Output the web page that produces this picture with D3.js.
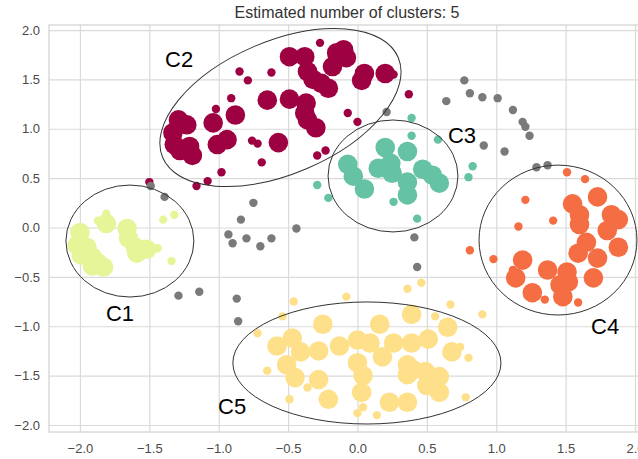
<!doctype html>
<html>
<head>
<meta charset="utf-8">
<script src="https://cdn.jsdelivr.net/npm/d3@7/dist/d3.min.js"></script>
<style>
  body { margin: 0; background: #fff; }
  text { font-family: "Liberation Sans", Arial, sans-serif; }
  .axis text { font-size: 13px; fill: #4a4a4a; }
  .axis line { stroke: #dadada; stroke-width: 1.2; }
  .axis .domain { display: none; }
</style>
</head>
<body>
<svg id="chart" width="638" height="459"></svg>
<script>
// core samples (large) and border samples (small) per cluster, noise in gray
var c1Core = [[-2.00,-0.05],[-2.02,-0.18],[-1.95,-0.20],[-1.99,-0.28],[-1.91,-0.30],[-1.87,-0.36],[-1.83,-0.40],[-1.91,-0.39],[-1.81,0.04],[-1.66,-0.01],[-1.65,-0.11],[-1.60,-0.20],[-1.59,-0.26],[-1.52,-0.22]];
var c1Edge = [[-1.87,0.07],[-1.81,0.14],[-1.44,-0.21],[-1.40,0.08],[-1.32,0.13],[-1.34,-0.34]];

var c2Core = [[-1.29,1.09],[-1.23,1.04],[-1.33,0.96],[-1.32,0.84],[-1.21,0.82],[-1.19,0.73],[-1.28,0.78],[-1.04,1.06],[-0.88,1.14],[-1.01,0.84],[-0.94,0.89],[-0.65,1.29],[-0.57,0.86],[-0.49,1.73],[-0.38,1.73],[-0.36,1.58],[-0.32,1.50],[-0.26,1.46],[-0.21,1.41],[-0.49,1.30],[-0.37,1.26],[-0.38,1.16],[-0.36,1.09],[-0.30,1.01],[-0.15,1.77],[-0.10,1.80],[-0.08,1.72],[-0.18,1.63],[0.05,1.56],[0.03,1.49],[0.20,1.56]];
var c2Edge = [[-0.85,1.58],[-0.79,1.49],[-0.62,1.57],[-0.91,1.31],[-1.02,1.20],[-0.76,0.88],[-0.72,0.85],[-0.69,0.66],[-0.98,0.56],[-1.08,0.47],[-1.16,0.42],[-1.50,0.46],[-0.27,1.87],[0.26,1.55],[-0.07,1.16],[0.00,1.07],[-0.23,0.78],[-0.29,0.73],[0.37,1.35]];

var c3Core = [[0.20,0.81],[0.36,0.77],[-0.07,0.64],[-0.03,0.52],[0.05,0.39],[0.15,0.60],[0.24,0.65],[0.25,0.55],[0.36,0.46],[0.36,0.33],[0.47,0.59],[0.54,0.53],[0.59,0.45]];
var c3Edge = [[0.39,1.11],[0.39,0.93],[0.58,0.89],[0.83,0.62],[0.80,0.51],[-0.29,0.43],[-0.21,0.30],[0.26,0.26],[0.43,0.09]];

var c4Core = [[1.73,0.31],[1.55,0.24],[1.60,0.13],[1.60,0.03],[1.83,0.13],[1.88,0.08],[1.80,-0.03],[1.65,-0.15],[1.59,-0.26],[1.73,-0.31],[1.88,-0.20],[1.19,-0.33],[1.14,-0.51],[1.26,-0.66],[1.37,-0.43],[1.51,-0.45],[1.52,-0.55],[1.46,-0.58],[1.48,-0.70],[1.70,-0.51]];
var c4Edge = [[1.51,0.56],[1.64,0.49],[1.21,0.28],[1.41,0.07],[1.16,0.01],[0.98,-0.32],[1.12,-0.43],[1.35,-0.73],[1.59,-0.76],[0.81,-0.23]];

var c5Core = [[-0.25,-0.98],[-0.47,-1.12],[-0.58,-1.20],[-0.41,-1.26],[-0.28,-1.25],[-0.13,-1.20],[-0.51,-1.39],[-0.45,-1.52],[-0.28,-1.54],[-0.21,-1.74],[0.00,-1.14],[0.00,-1.37],[0.39,-0.88],[0.16,-0.98],[0.65,-1.01],[0.09,-1.17],[0.26,-1.17],[0.39,-1.17],[0.51,-1.13],[0.18,-1.31],[0.68,-1.26],[0.36,-1.39],[0.40,-1.44],[0.49,-1.46],[0.59,-1.51],[0.36,-1.49],[0.50,-1.60],[0.59,-1.67],[0.04,-1.50],[0.03,-1.67],[0.23,-1.77],[0.36,-1.77]];
var c5Edge = [[-0.46,-0.75],[-0.08,-0.70],[-0.54,-0.90],[-0.72,-1.07],[-0.65,-1.45],[-0.36,-1.62],[-0.49,-1.74],[0.00,-1.88],[0.04,-1.82],[0.36,-0.62],[0.46,-0.56],[0.67,-0.78],[0.56,-0.90],[0.90,-0.88],[0.74,-1.21],[0.80,-1.32],[0.78,-1.72],[0.14,-1.90]];

var noise = [[-1.49,0.42],[-1.39,0.31],[-0.75,0.25],[-0.84,0.08],[-0.44,-0.01],[-0.93,-0.07],[-0.90,-0.16],[-0.80,-0.11],[-0.70,-0.19],[-0.62,-0.11],[-1.29,-0.69],[-1.14,-0.65],[-0.87,-0.72],[-0.86,-0.95],[0.41,-0.10],[0.43,-0.40],[0.21,1.17],[0.64,1.28],[0.77,1.49],[0.81,1.36],[0.90,1.32],[1.01,1.31],[1.12,1.19],[1.19,1.07],[1.21,1.02],[1.24,0.93],[0.91,0.83],[1.06,0.77],[1.29,0.61],[1.37,0.63]];

var clusterNames = ["C1", "C2", "C3", "C4", "C5"];
var clusterColors = ["#e6f598", "#9e0142", "#66c2a5", "#f46d43", "#fee08b"];
var clusterCore = [c1Core, c2Core, c3Core, c4Core, c5Core];
var clusterEdge = [c1Edge, c2Edge, c3Edge, c4Edge, c5Edge];

// ellipse: center x, center y, half width (x units), half height (y units), angle
var ellipseCx = [-1.640, -0.555, 0.256, 1.445, 0.068];
var ellipseCy = [-0.137, 1.215, 0.522, -0.127, -1.372];
var ellipseRx = [0.461, 0.922, 0.468, 0.569, 0.966];
var ellipseRy = [0.567, 0.673, 0.567, 0.759, 0.618];
var ellipseAngle = [0, -23, 0, 0, 0];

// label anchor (left, baseline)
var labelX = [-1.813, -1.387, 0.652, 1.683, -1.005];
var labelY = [-0.947, 1.625, 0.856, -1.078, -1.889];

var tickValues = [-2.0, -1.5, -1.0, -0.5, 0.0, 0.5, 1.0, 1.5, 2.0];
var titleText = "Estimated number of clusters: 5";

var svg = d3.select("#chart");
var plotLeft = 49, plotRight = 645, plotTop = 25, plotBottom = 432;

var x = d3.scaleLinear().domain([-2.223, 2.072]).range([plotLeft, plotRight]);
var y = d3.scaleLinear().domain([-2.071, 2.051]).range([plotBottom, plotTop]);
var fmt = d3.format(".1f");

svg.append("defs").append("clipPath").attr("id", "plot")
  .append("rect")
    .attr("x", plotLeft).attr("y", plotTop)
    .attr("width", plotRight - plotLeft).attr("height", plotBottom - plotTop);

svg.append("g")
  .attr("class", "axis")
  .attr("transform", "translate(0," + plotBottom + ")")
  .call(d3.axisBottom(x).tickValues(tickValues).tickFormat(fmt)
    .tickSize(-(plotBottom - plotTop)).tickPadding(12));

svg.append("g")
  .attr("class", "axis")
  .attr("transform", "translate(" + plotLeft + ",0)")
  .call(d3.axisLeft(y).tickValues(tickValues).tickFormat(fmt)
    .tickSize(-(plotRight - plotLeft)).tickPadding(9));

svg.append("rect")
  .attr("x", plotLeft).attr("y", plotTop)
  .attr("width", plotRight - plotLeft).attr("height", plotBottom - plotTop)
  .style("fill", "none")
  .style("stroke", "#d4d4d4")
  .style("stroke-width", 1.3);

var plot = svg.append("g").attr("clip-path", "url(#plot)");

clusterNames.forEach(function(name, i) {
  plot.selectAll("circle.core" + i)
    .data(clusterCore[i])
    .enter().append("circle")
      .attr("class", "core" + i)
      .attr("cx", d => x(d[0]))
      .attr("cy", d => y(d[1]))
      .attr("r", 9.8)
      .style("fill", clusterColors[i]);
  plot.selectAll("circle.edge" + i)
    .data(clusterEdge[i])
    .enter().append("circle")
      .attr("class", "edge" + i)
      .attr("cx", d => x(d[0]))
      .attr("cy", d => y(d[1]))
      .attr("r", 4.2)
      .style("fill", clusterColors[i]);
});

plot.selectAll("circle.noise")
  .data(noise)
  .enter().append("circle")
    .attr("class", "noise")
    .attr("cx", d => x(d[0]))
    .attr("cy", d => y(d[1]))
    .attr("r", 4.2)
    .style("fill", "#7a7a7a");

var xUnit = x(1) - x(0), yUnit = y(0) - y(1);

plot.selectAll("ellipse.ring")
  .data(clusterNames)
  .enter().append("ellipse")
    .attr("class", "ring")
    .attr("transform", (d, i) => "translate(" + x(ellipseCx[i]) + "," + y(ellipseCy[i]) + ") rotate(" + ellipseAngle[i] + ")")
    .attr("rx", (d, i) => ellipseRx[i] * xUnit)
    .attr("ry", (d, i) => ellipseRy[i] * yUnit)
    .style("fill", "none")
    .style("stroke", "#333")
    .style("stroke-width", 1);

svg.selectAll("text.label")
  .data(clusterNames)
  .enter().append("text")
    .attr("class", "label")
    .attr("x", (d, i) => x(labelX[i]))
    .attr("y", (d, i) => y(labelY[i]))
    .style("font-size", "22px")
    .style("fill", "#000")
    .text(d => d);

svg.append("text")
  .attr("x", (plotLeft + plotRight) / 2)
  .attr("y", 18)
  .style("text-anchor", "middle")
  .style("font-size", "16px")
  .style("fill", "#333")
  .text(titleText);
</script>
</body>
</html>
